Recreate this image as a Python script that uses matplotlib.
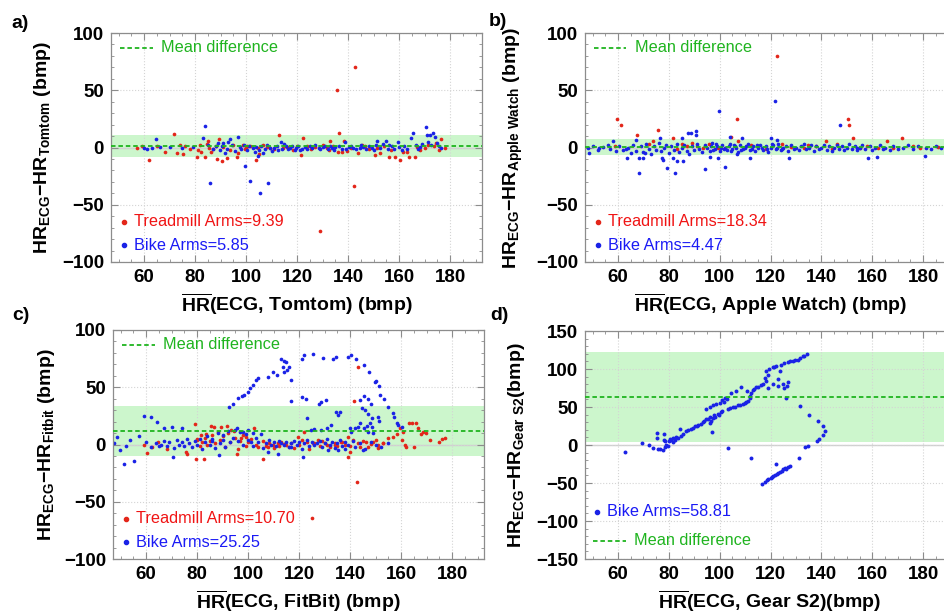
import numpy as np
import matplotlib
matplotlib.use('Agg')
import matplotlib.pyplot as plt
from matplotlib.ticker import MultipleLocator

plt.rcParams['font.family'] = ['Liberation Sans', 'DejaVu Sans']
plt.rcParams['mathtext.fontset'] = 'custom'
plt.rcParams['mathtext.rm'] = 'Liberation Sans:bold'
plt.rcParams['mathtext.it'] = 'Liberation Sans:bold'
plt.rcParams['mathtext.bf'] = 'Liberation Sans:bold'

# ---- data (mean HR, difference) ----
tread_a = [(57.3, 0.0), (59.1, 1.5), (62.0, -10.5), (68.0, -4.0), (71.8, 11.7), (73.0, -5.0), (73.9, 2.0),
           (75.4, -6.0), (76.0, 1.7), (80.6, -8.7), (81.0, -2.0), (82.4, -3.5), (83.9, -8.7), (85.0, 6.0),
           (85.5, -0.6), (86.3, -3.5), (88.4, -10.0), (89.3, 7.6), (90.5, -12.0), (92.4, -9.0), (96.6, -8.7),
           (97.0, -4.4), (98.9, 2.3), (100.0, -0.6), (100.5, 1.7), (103.7, -10.5), (105.0, -6.0), (108.0, 0.6),
           (109.5, -0.6), (112.7, 10.5), (114.6, 0.0), (118.5, -2.0), (121.5, -6.4), (122.2, 7.9), (123.8, 1.7),
           (129.0, -73.0), (131.6, 0.0), (133.0, 5.5), (135.6, 50.0), (136.0, -3.8), (136.4, 12.8), (137.5, -3.5),
           (138.4, 5.8), (142.5, 70.0), (142.2, -34.0), (144.0, -5.0), (146.8, 1.7), (150.7, -6.7), (152.5, -5.0),
           (156.2, -8.0), (158.4, -8.2), (160.4, -10.5), (161.7, -4.0), (164.0, -8.5), (166.3, -8.2), (168.0, -2.0),
           (170.2, -0.6), (173.5, 1.7), (175.6, -2.0), (176.4, 7.0), (177.8, 0.0),
           (65.0, 1.0), (78.0, -1.5), (82.0, 2.0), (84.5, 3.0), (87.0, -1.0), (88.0, 1.5), (91.0, 0.5),
           (93.5, -2.5), (95.0, 2.5), (99.5, -1.0), (101.5, 1.0), (104.5, 0.0), (106.5, 2.0), (111.0, -1.5),
           (116.0, 0.5), (120.0, 1.5), (125.5, -1.0), (127.0, 0.5), (130.0, 2.0), (132.5, -2.0), (134.0, 1.0),
           (139.5, -3.0), (141.0, 0.0), (145.5, 2.5), (148.0, -1.5), (151.5, -0.5), (154.0, 1.0), (157.0, -2.0),
           (163.0, -3.5), (167.0, 0.5), (171.5, 2.5), (174.5, 4.0)]
bike_a = [(60.0, -0.6), (61.0, -1.2), (63.0, -0.6), (64.6, 7.0), (66.3, 0.6), (79.0, 0.6), (83.2, 7.9),
          (84.0, 19.2), (86.0, -31.0), (88.3, 1.7), (89.8, -2.0), (91.6, -5.2), (93.7, 7.6), (94.4, 2.3),
          (96.9, 9.3), (97.4, 0.6), (99.6, -16.0), (101.6, -28.9), (102.6, -0.6), (104.8, -7.3), (105.5, -40.0),
          (106.8, -4.4), (108.7, -31.0), (111.0, -0.6), (113.7, 5.2), (115.6, 1.2), (117.3, -0.6), (119.6, -0.6),
          (121.2, -2.0), (125.1, 1.7), (128.4, -0.6), (131.0, 1.7), (133.6, -0.6), (138.8, 5.2), (140.5, 0.6),
          (142.1, -0.6), (146.0, 0.6), (149.3, -0.6), (151.5, 5.8), (154.9, 5.8), (157.1, 1.2), (159.5, 5.2),
          (162.0, 1.7), (164.6, 8.2), (165.6, 13.1), (168.2, 0.6), (170.4, 17.5), (170.8, 11.0), (172.2, 10.5),
          (173.2, 12.5), (174.1, 9.3), (174.8, 3.8), (175.8, 1.7),
          (90.5, 1.0), (91.0, 3.5), (92.5, -1.5), (93.0, 5.0), (95.5, -3.0), (98.0, -1.0), (99.0, 2.0),
          (100.5, -2.5), (101.0, 1.5), (103.5, -3.5), (104.0, 0.5), (105.0, -2.0), (106.0, 1.0), (107.5, -1.5),
          (108.0, 2.0), (109.5, 0.0), (110.0, -3.0), (112.0, 1.0), (112.5, -2.0), (114.0, -1.0), (115.0, 3.0),
          (116.5, -1.5), (118.0, 1.0), (119.0, -2.5), (120.5, 1.5), (122.0, -1.0), (123.0, 0.5), (124.0, -1.5),
          (126.0, 0.0), (127.0, 2.0), (129.0, -1.0), (130.0, 0.5), (132.0, -1.5), (133.0, 1.0), (134.5, -2.0),
          (135.0, 0.5), (136.5, 1.5), (137.5, -1.0), (139.0, -1.5), (141.0, 1.0), (143.0, -1.5), (144.5, 0.0),
          (145.0, 2.0), (147.0, -1.0), (148.0, 1.5), (150.0, -2.0), (151.0, 2.5), (152.5, 0.0), (153.5, 3.0),
          (155.5, -1.0), (156.0, 2.0), (158.0, -1.5), (160.0, 0.5), (161.0, -2.0), (163.0, -1.0), (166.5, 2.0),
          (167.5, -1.0), (169.0, 3.0), (171.5, 5.0), (172.5, 2.0), (176.5, 0.0), (85.0, 2.0), (87.0, -1.0),
          (89.0, 4.0), (70.0, 0.5), (75.0, -0.5)]

tread_b = [(59.6, 24.9), (61.3, 19.9), (58.7, 1.5), (67.6, 11.1), (72.1, 2.9), (73.8, 5.3), (75.9, 15.2),
           (81.7, 8.2), (85.0, 2.9), (87.0, 1.5), (89.0, 3.5), (93.5, 0.0), (95.9, 2.9), (99.4, 0.0),
           (104.5, 8.8), (106.6, 24.9), (107.2, 5.9), (112.2, 2.3), (122.6, 80.2), (124.4, 2.9), (133.0, 0.0),
           (134.6, 2.3), (141.8, 5.9), (146.0, 2.9), (150.3, 24.9), (150.9, 19.9), (152.5, 8.2), (155.2, 0.0),
           (162.4, 0.0), (165.6, 5.9), (171.5, 8.2), (175.9, 1.5), (178.8, 0.0), (83.0, -1.0), (91.0, 1.0),
           (102.0, -0.5), (115.0, 1.0), (118.0, -1.0), (128.0, 0.5), (138.0, 1.0), (144.0, -1.0), (158.0, 1.0),
           (168.0, -0.5), (186.0, 0.5)]
bike_b = [(48.2, 0.0), (48.5, -4.4), (52.4, -0.6), (58.0, 5.9), (63.0, -1.5), (63.5, -8.8), (67.2, 6.4),
          (68.1, -9.4), (68.4, -22.0), (69.8, -8.8), (70.5, -4.4), (76.4, 8.2), (77.4, -8.8), (77.7, -11.1),
          (79.3, -17.6), (82.3, -22.0), (81.7, -8.8), (83.2, -11.7), (85.1, 8.2), (85.6, -11.7), (87.5, 12.3),
          (88.8, 12.9), (90.6, 14.1), (90.8, 11.1), (94.1, -19.0), (96.1, -8.2), (99.8, 32.2), (99.4, -8.8),
          (102.0, -16.7), (104.0, 9.4), (106.6, -5.9), (108.6, 8.2), (111.9, -8.8), (120.1, 8.2), (121.6, 41.0),
          (122.4, 6.4), (127.2, -9.4), (147.2, 19.9), (153.8, 0.0), (158.1, -9.4), (161.7, -8.2), (180.7, -7.6),
          (50, 1), (52, -2), (54, 0.5), (56, 2), (57, -1), (59, -3), (60.5, 1), (62, -2), (64, 0), (65, -5),
          (66, 2), (67, -3), (69, 1), (70, -4), (71, 3), (72, -1), (73, -6), (74, 1.5), (75, -2), (76, 4),
          (77, -3), (78, 0), (79, 2), (80, -5), (81, 1), (82, -2), (83, 3), (84, -4), (85, 0), (86, 2),
          (87, -3), (88, -6), (89, 1), (90, -2), (91, 3), (92, -1), (93, -4), (94, 2), (95, 0), (96, -3),
          (97, 4), (98, -1), (99, 1), (100, -3), (101, 2), (102, 0), (103, -2), (104, 3), (105, -1), (106, 1),
          (107, -4), (108, 2), (109, -1), (110, 0), (111, 3), (112, -2), (113, 1), (114, -3), (115, 0), (116, 2),
          (117, -2), (118, 1), (119, -4), (120, 0), (121, 2), (122, -1), (123, 3), (124, -2), (125, 0), (126, 1),
          (127, -3), (128, 2), (129, -1), (130, 0), (131, -2), (132, 1), (133, 3), (134, -1), (135, 0), (136, 2),
          (137, -3), (138, 1), (139, -1), (140, 0), (141, 2), (142, -2), (143, 1), (144, -3), (145, 0), (146, 2),
          (147, -1), (148, 1), (149, -2), (150, 0), (151, 3), (152, -1), (153, 1), (154, -2), (155, 0), (156, 2),
          (157, -1), (159, 1), (160, -2), (161, 0), (163, 2), (164, -1), (165, 0), (167, -2), (168, 1), (170, -1),
          (172, 0), (174, 2), (176, -1), (178, 1), (181, 0), (183, -1), (185, 1), (187, 0), (189, -1),
          (96.5, 1), (97.5, -2), (98.5, 3), (100.5, 0), (101.5, -1), (103.5, 1), (104.5, -3), (105.5, 2),
          (106.5, 0), (108.5, -2), (110.5, 1), (112.5, -1), (114.5, 2), (116.5, 0), (118.5, -1), (120.5, 3),
          (122.5, 0), (124.5, -1)]

tread_c = [(59.3, -0.6), (60.4, -7.3), (62.3, -2.0), (64.6, 2.3), (68.0, -3.5), (75.5, -6.4), (75.9, -8.5),
           (79.3, 17.8), (79.4, -13.1), (80.1, 3.8), (81.4, 8.2), (82.7, -12.3), (83.4, 9.6), (85.3, 16.0),
           (86.6, 14.9), (89.3, 14.9), (91.9, 16.0), (93.2, 12.6), (94.5, 12.0), (95.8, -8.5), (97.2, 5.3),
           (99.1, 6.7), (102.4, 14.0), (105.7, -12.8), (107.7, -2.0), (109.7, -0.6), (111.7, 0.9), (114.2, 0.3),
           (119.5, 6.7), (122.1, 11.1), (125.2, -63.9), (125.5, 0.9), (127.3, 3.8), (130.0, 0.9), (133.9, -0.6),
           (136.6, 2.3), (139.2, 6.7), (139.2, -10.8), (141.5, 38.2), (143.1, 68.0), (142.6, -32.7), (139.8, -6.4),
           (144.0, -2.0), (146.2, 2.3), (148.0, 0.3), (150.2, 3.8), (150.9, -0.6), (152.9, 0.9), (156.9, 6.7),
           (158.2, 9.0), (159.5, 14.0), (160.2, 3.8), (160.8, 11.1), (161.5, -0.6), (162.1, -2.0), (163.1, 18.4),
           (164.1, 19.0), (165.1, -2.6), (165.7, 19.0), (166.7, 14.0), (167.8, 9.6), (168.7, 11.1), (169.7, 10.2),
           (171.3, 3.8), (174.9, 2.3), (176.0, 4.4), (177.2, 5.3),
           (80, 5), (81, -1), (82, 2), (83, 6), (84, 0), (85, 3), (86, 8), (87, 1), (88, 11), (89, 4), (90, 7),
           (91, -2), (92, 10), (93, 2), (95, 6), (96, -4), (97, 3), (98, 8), (99, -1), (100, 2), (101, 5),
           (103, 0), (104, -2), (106, 3), (107, -1), (108, 1), (110, -3), (112, -1), (113, 2), (115, 0),
           (116, -2), (117, 1), (118, -3), (120, 0), (121, 4), (123, 2), (124, -4), (126, 1), (128, -1),
           (129, 3), (131, 0), (132, -2), (134, 1), (135, -1), (137, 2), (138, 0), (140, -1), (141, 4),
           (143, 1), (145, 3), (147, -2), (149, 2), (151, -3), (153, 1), (155, 6)]
bike_c = [(92.6, 32.4), (93.9, 35.3), (96.1, 40.3), (97.5, 42.3), (98.3, 43.2), (99.8, 46.1), (100.8, 49.0),
          (101.9, 52.0), (103.1, 56.4), (103.7, 58.4), (107.7, 58.7), (109.7, 63.6), (111.2, 60.7), (112.9, 74.5),
          (114.0, 73.3), (115.0, 72.1), (113.6, 68.0), (114.0, 63.6), (115.2, 65.1), (116.2, 67.4), (116.9, 56.4),
          (116.9, 38.2), (121.2, 74.5), (122.1, 78.2), (121.2, 41.2), (122.8, 39.4), (125.5, 79.1), (127.7, 35.3),
          (128.7, 37.4), (129.4, 75.3), (130.7, 38.8), (133.3, 74.5), (134.6, 76.8), (139.0, 76.2), (140.3, 78.2),
          (142.2, 74.5), (145.5, 69.5), (147.4, 63.6), (149.7, 54.9), (150.3, 55.5), (151.4, 51.1), (151.6, 43.2),
          (153.4, 39.4), (154.7, 32.4), (156.9, 27.7), (157.3, 23.6), (158.2, 19.0), (158.9, 16.9), (160.2, 15.5),
          (143.8, 38.8), (145.5, 42.3), (147.1, 39.4), (148.2, 35.3), (144.5, 31.5), (145.8, 30.0), (147.1, 27.0),
          (148.4, 22.8), (147.8, 18.4), (146.5, 16.0), (145.6, 14.0), (147.1, 11.0), (148.4, 14.9), (149.1, 10.2),
          (151.0, 24.2), (151.4, 20.7), (135.2, 25.7), (134.6, 28.0), (135.9, 28.6), (123.1, 22.8), (132.4, 16.9),
          (131.1, 14.0), (128.4, 12.6), (125.8, 13.4), (124.5, 13.1), (143.1, 15.5), (139.8, 14.0), (141.8, 14.0),
          (140.4, 11.1), (143.8, 18.4), (144.9, -5.0), (138.0, -3.5), (135.4, -5.0), (131.5, -5.0), (121.7, -10.8),
          (116.9, -2.0), (111.7, -7.9), (107.7, -6.4), (88.6, -9.3), (70.5, -10.8), (70.2, 15.5), (67.0, 14.0),
          (64.3, 19.3), (61.9, 24.2), (59.3, 25.1), (57.3, 7.3), (53.6, 3.8), (52.2, -1.2), (49.9, -4.4),
          (51.5, -16.6), (55.4, -14.6), (47.3, 0.9), (74.2, 14.0), (48.6, 6.7),
          (60, 2), (62, -2), (64, 1), (65, -1), (66, 0), (67, 3), (68, -1), (69, 2), (71, -3), (72, 4), (73, 0),
          (74, 2), (75, -1), (76, 5), (77, 1), (78, -2), (79, 3), (80, 0), (81, 5), (82, -4), (83, 2), (84, 7),
          (85, 0), (86, 3), (87, -3), (88, 10), (89, 1), (90, 4), (91, -2), (92, 12), (93, 2), (94, 6), (95, 13),
          (96, 3), (97, 11), (98, 0), (99, 9), (100, 4), (101, 2), (102, -1), (103, 6), (104, 2), (105, 9),
          (106, -3), (107, 1), (108, 4), (109, 0), (110, 2), (111, -1), (112, 3), (113, 1), (114, 0), (115, 2),
          (116, -2), (117, 1), (118, 3), (119, 0), (120, 2), (121, -4), (122, 1), (123, 4), (124, -1), (125, 2),
          (126, 0), (127, 1), (128, 3), (129, -2), (130, 1), (131, 5), (132, 0), (133, 2), (134, -3), (135, 1),
          (136, 4), (137, -1), (138, 2), (139, 0), (141, 3), (142, -2), (144, 1), (146, -4), (148, 2), (150, 0),
          (152, -2), (155, 1), (95.5, 14), (98, 11), (100, 13), (102, 10), (86, 5), (90, 8)]

bike_d = [(62.9, -8.8), (69.5, 2.6), (72.2, 0.4), (73.8, -4.0), (75.6, -5.3), (77.7, -6.6), (78.3, -3.1),
          (79.6, -1.8), (75.2, 16.2), (75.3, 9.2), (77.9, 14.0), (77.9, 6.1), (78.5, 4.8), (80.2, 5.3),
          (81.8, 3.9), (81.8, 9.2), (82.9, 10.5), (84.2, 20.6), (83.5, 9.2), (86.8, 18.4), (88.7, 21.5),
          (90.1, 25.0), (91.6, 25.9), (93.3, 30.3), (94.7, 33.8), (96.0, 36.8), (97.0, 17.1), (96.6, 31.2),
          (97.9, 39.0), (99.2, 41.2), (100.3, 43.4), (94.7, 47.8), (96.0, 49.6), (97.3, 52.2), (98.6, 53.9),
          (99.9, 55.3), (100.8, 59.6), (102.1, 61.8), (103.4, 47.8), (103.4, -3.9), (105.1, 49.6), (107.1, 52.2),
          (109.0, 53.9), (110.4, 56.6), (111.7, 61.8), (104.5, 68.4), (106.5, 71.5), (108.2, 75.9), (110.8, 71.5),
          (112.1, 68.4), (112.4, -17.2), (113.4, 74.1), (114.3, 75.9), (116.3, 78.5), (118.2, 83.8), (117.9, 88.2),
          (118.2, 97.0), (119.5, 100.4), (120.8, 102.2), (122.1, 103.5), (123.8, 97.0), (124.1, 105.7),
          (125.1, 107.9), (126.7, 109.2), (128.6, 111.0), (130.6, 112.3), (132.6, 116.7), (134.2, 119.7),
          (118.8, 75.4), (120.8, 79.8), (122.8, 77.6), (122.8, 86.8), (124.8, 79.8), (125.4, 75.4), (126.7, 82.5),
          (126.4, 78.1), (126.2, 62.3), (131.7, 51.8), (135.2, 39.5), (138.8, 31.6), (140.5, 25.4), (141.2, 18.4),
          (140.5, 13.2), (139.2, 7.9), (138.3, 5.3), (134.6, -0.9), (133.4, -2.2), (131.0, -16.7), (122.3, -25.4),
          (126.9, -28.5), (125.6, -29.8), (124.3, -34.2), (123.0, -37.3), (121.7, -39.5), (120.4, -42.1),
          (119.1, -44.7), (117.8, -48.2), (116.7, -50.8),
          (80.8, 6.5), (82.2, 7.0), (84.8, 12.0), (85.5, 14.5), (87.5, 19.5), (89.5, 22.0), (91.0, 24.5),
          (92.5, 27.5), (93.8, 31.0), (95.2, 34.0), (96.3, 29.0), (97.5, 35.0), (98.2, 37.5), (99.5, 39.0),
          (101.0, 45.0), (101.5, 57.0), (102.8, 60.5), (104.0, 48.5), (106.0, 50.5), (108.0, 53.0), (110.0, 55.5),
          (111.0, 58.0), (112.0, 64.0), (113.0, 72.5), (115.0, 76.5), (117.0, 80.0), (119.0, 92.0), (121.5, 102.8),
          (127.5, 110.0), (129.5, 111.5), (131.5, 114.0), (133.0, 117.5), (118.5, -46.5), (120.0, -43.5),
          (121.0, -41.0), (122.5, -38.5), (123.5, -36.0), (124.8, -32.0), (126.0, -31.0), (127.5, -28.0),
          (76.5, -5.5), (79.0, 0.5), (80.5, 8.0)]

panels = [
    dict(tag='a)', dev='Tomtom', xdev='Tomtom', ylim=(-100, 100), band=(-8.2, 10.6), mean=1.2,
         tread=tread_a, bike=bike_a, tread_rms='9.39', bike_rms='5.85'),
    dict(tag='b)', dev='Apple\\ Watch', xdev='Apple Watch', ylim=(-100, 100), band=(-6.5, 7.0), mean=0.5,
         tread=tread_b, bike=bike_b, tread_rms='18.34', bike_rms='4.47'),
    dict(tag='c)', dev='Fitbit', xdev='FitBit', ylim=(-100, 100), band=(-9.8, 33.6), mean=12.0,
         tread=tread_c, bike=bike_c, tread_rms='10.70', bike_rms='25.25'),
    dict(tag='d)', dev='Gear\\ S2', xdev='Gear S2', ylim=(-150, 150), band=(3.5, 122.5), mean=63.0,
         tread=None, bike=bike_d, tread_rms=None, bike_rms='58.81'),
]

RED = '#e3261a'
RED_TXT = '#f01414'
BLUE = '#1a22e6'
BLUE_TXT = '#1a1af5'
GREEN = '#1fb41f'
BAND = '#ccf6cc'
FRAME = '#8c8c8c'

W, H = 944, 613
fig = plt.figure(figsize=(W / 100, H / 100), dpi=100)
fig.patch.set_facecolor('white')

# axes boxes in pixels: left, top, right, bottom
boxes = [(111, 33, 482, 262), (585, 33, 955, 262), (113, 330, 484, 559), (585, 331, 955, 559)]
tag_pos = [(11, 23), (489, 22), (12, 316), (490, 316)]
ylab_x = [-0.155, -0.162, -0.152, -0.158]

for p, (l, t, r, b), (tx, ty), ylx in zip(panels, boxes, tag_pos, ylab_x):
    ax = fig.add_axes([l / W, 1 - b / H, (r - l) / W, (b - t) / H])
    ax.set_xlim(47, 192.5)
    ax.set_ylim(*p['ylim'])
    ax.set_axisbelow(True)

    ax.axhspan(*p['band'], color=BAND, lw=0, zorder=0.3)
    ax.axhline(0, color='#d0d0d0', lw=1.0, zorder=0.5)

    if p['tread'] is not None:
        tx_, ty_ = np.array(p['tread']).T
        ax.scatter(tx_, ty_, s=7, color=RED, linewidths=0, zorder=2)
    bx_, by_ = np.array(p['bike']).T
    ax.scatter(bx_, by_, s=8 if p['tread'] is None else 7, color=BLUE, linewidths=0, zorder=2.1)

    ax.axhline(p['mean'], color=GREEN, lw=1.3, ls='--', dashes=(2.5, 1.6), zorder=3)

    ax.xaxis.set_major_locator(MultipleLocator(20))
    ax.xaxis.set_minor_locator(MultipleLocator(5))
    ax.yaxis.set_major_locator(MultipleLocator(50))
    ax.yaxis.set_minor_locator(MultipleLocator(10))
    ax.tick_params(which='both', direction='in', top=True, right=True, color=FRAME)
    ax.tick_params(which='major', length=5, width=0.8, labelsize=13.5, pad=5)
    ax.tick_params(which='minor', length=2.5, width=0.6)
    for lab in ax.get_xticklabels() + ax.get_yticklabels():
        lab.set_fontweight('bold')
    for s in ax.spines.values():
        s.set_color(FRAME)
        s.set_linewidth(0.9)
    ax.grid(True, which='major', ls=':', color='#d4d4d4', lw=0.8)

    sep = '' if p['tag'] == 'd)' else ' '
    ax.set_xlabel(r'$\overline{\rm HR}$(ECG, ' + p['xdev'] + ')' + sep + '(bmp)',
                  fontsize=14, fontweight='bold', labelpad=4)
    ax.set_ylabel('HR$_{\\rm ECG}$\u2212HR$_{\\rm ' + p['dev'] + '}$' + sep + '(bmp)',
                  fontsize=14, fontweight='bold')
    ax.yaxis.set_label_coords(ylx, 0.5)

    fig.text(tx / W, 1 - ty / H, p['tag'], fontsize=14, fontweight='bold', va='center', ha='left')

    # legend-like annotations
    if p['tread'] is not None:
        my = 0.935
        ax.plot([0.023, 0.112], [my, my], transform=ax.transAxes, color=GREEN, lw=1.3,
                ls='--', dashes=(2.5, 1.6), zorder=4)
        ax.text(0.134, my, 'Mean difference', transform=ax.transAxes, color=GREEN,
                fontsize=11.7, va='center', ha='left')
        ax.plot([0.034], [0.176], 'o', ms=3, color=RED, transform=ax.transAxes, zorder=4)
        ax.text(0.061, 0.176, 'Treadmill Arms=' + p['tread_rms'], transform=ax.transAxes,
                color=RED_TXT, fontsize=11.7, va='center', ha='left')
        ax.plot([0.034], [0.074], 'o', ms=3, color=BLUE, transform=ax.transAxes, zorder=4)
        ax.text(0.061, 0.074, 'Bike Arms=' + p['bike_rms'], transform=ax.transAxes,
                color=BLUE_TXT, fontsize=11.7, va='center', ha='left')
    else:
        ax.plot([0.033], [0.207], 'o', ms=3, color=BLUE, transform=ax.transAxes, zorder=4)
        ax.text(0.060, 0.207, 'Bike Arms=' + p['bike_rms'], transform=ax.transAxes,
                color=BLUE_TXT, fontsize=11.7, va='center', ha='left')
        ax.plot([0.021, 0.110], [0.080, 0.080], transform=ax.transAxes, color=GREEN, lw=1.3,
                ls='--', dashes=(2.5, 1.6), zorder=4)
        ax.text(0.132, 0.080, 'Mean difference', transform=ax.transAxes, color=GREEN,
                fontsize=11.7, va='center', ha='left')

fig.savefig('out.png', dpi=100)
